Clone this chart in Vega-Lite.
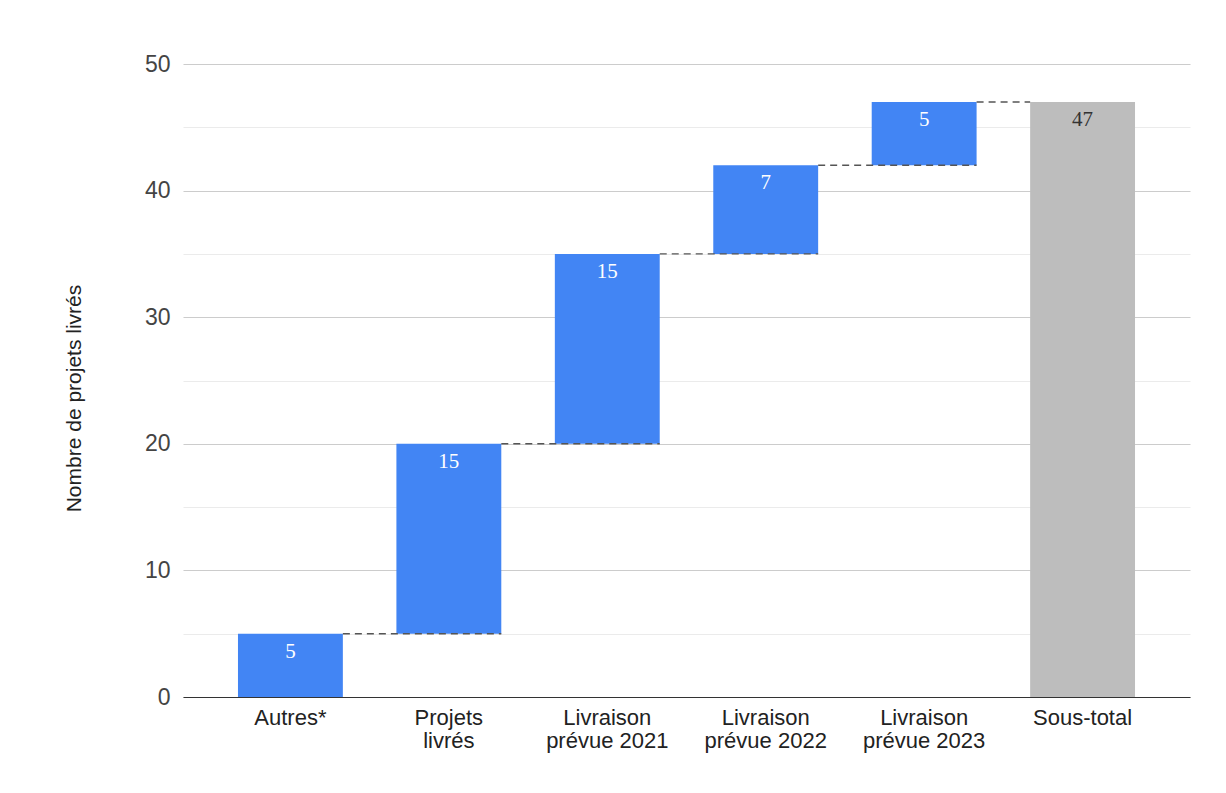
{
  "$schema": "https://vega.github.io/schema/vega-lite/v6.json",
  "autosize": {"type": "none"},
  "width": 1007,
  "height": 633,
  "padding": {"left": 183, "top": 64, "right": 36, "bottom": 96},
  "background": "white",
  "config": {
    "view": {"stroke": null},
    "font": "Liberation Sans"
  },
  "datasets": {
    "steps": [
      {"etape": "Autres*", "debut": 0, "fin": 5, "valeur": 5, "type": "hausse"},
      {"etape": "Projets livrés", "debut": 5, "fin": 20, "valeur": 15, "type": "hausse"},
      {"etape": "Livraison prévue 2021", "debut": 20, "fin": 35, "valeur": 15, "type": "hausse"},
      {"etape": "Livraison prévue 2022", "debut": 35, "fin": 42, "valeur": 7, "type": "hausse"},
      {"etape": "Livraison prévue 2023", "debut": 42, "fin": 47, "valeur": 5, "type": "hausse"},
      {"etape": "Sous-total", "debut": 0, "fin": 47, "valeur": 47, "type": "total"}
    ],
    "liens": [
      {"de": "Autres*", "vers": "Projets livrés", "niveau": 5},
      {"de": "Projets livrés", "vers": "Livraison prévue 2021", "niveau": 20},
      {"de": "Livraison prévue 2021", "vers": "Livraison prévue 2022", "niveau": 35},
      {"de": "Livraison prévue 2022", "vers": "Livraison prévue 2023", "niveau": 42},
      {"de": "Livraison prévue 2023", "vers": "Sous-total", "niveau": 47}
    ]
  },
  "layer": [
    {
      "data": {"name": "steps"},
      "mark": {"type": "bar"},
      "encoding": {
        "x": {
          "field": "etape",
          "type": "nominal",
          "sort": null,
          "scale": {"paddingInner": 0.338, "paddingOuter": 0.347},
          "axis": {
            "title": null,
            "labelAngle": 0,
            "labelFontSize": 22,
            "labelColor": "#222222",
            "labelLineHeight": 23,
            "labelPadding": 10,
            "labelBaseline": "top",
            "ticks": false,
            "tickSize": 0,
            "domainColor": "#333333",
            "domainWidth": 1.2,
            "labelExpr": "indexof(datum.label, ' ') > 0 ? [substring(datum.label, 0, indexof(datum.label, ' ')), substring(datum.label, indexof(datum.label, ' ') + 1)] : datum.label"
          }
        },
        "y": {
          "field": "debut",
          "type": "quantitative",
          "scale": {"domain": [0, 50], "nice": false},
          "axis": {
            "title": "Nombre de projets livrés",
            "titleFontSize": 21,
            "titleFontWeight": "normal",
            "titleColor": "#222222",
            "titleX": -99,
            "titleY": 334,
            "values": [0, 5, 10, 15, 20, 25, 30, 35, 40, 45, 50],
            "labelExpr": "datum.value % 10 === 0 ? datum.label : ''",
            "labelFontSize": 23,
            "labelColor": "#444444",
            "labelPadding": 13,
            "ticks": false,
            "tickSize": 0,
            "domain": false,
            "grid": true,
            "gridColor": {"condition": {"test": "datum.value % 10 !== 0", "value": "#ebebeb"}, "value": "#cccccc"},
            "gridWidth": 1.2
          }
        },
        "y2": {"field": "fin"},
        "color": {
          "field": "type",
          "type": "nominal",
          "scale": {"domain": ["hausse", "total"], "range": ["#4285f4", "#bdbdbd"]},
          "legend": null
        }
      }
    },
    {
      "data": {"name": "liens"},
      "transform": [{"filter": "datum.vers !== 'Sous-total'"}],
      "mark": {"type": "rule", "color": "#555555", "strokeWidth": 1.4, "strokeDash": [7, 5]},
      "encoding": {
        "x": {"field": "de", "type": "nominal", "sort": null, "bandPosition": 1},
        "x2": {"field": "vers", "bandPosition": 1},
        "y": {"field": "niveau", "type": "quantitative"}
      }
    },
    {
      "data": {"name": "liens"},
      "transform": [{"filter": "datum.vers === 'Sous-total'"}],
      "mark": {"type": "rule", "color": "#555555", "strokeWidth": 1.4, "strokeDash": [7, 5]},
      "encoding": {
        "x": {"field": "de", "type": "nominal", "sort": null, "bandPosition": 1},
        "x2": {"field": "vers", "bandPosition": 0},
        "y": {"field": "niveau", "type": "quantitative"}
      }
    },
    {
      "data": {"name": "steps"},
      "mark": {"type": "text", "font": "Liberation Serif", "fontSize": 21, "baseline": "alphabetic", "dy": 24},
      "encoding": {
        "x": {"field": "etape", "type": "nominal", "sort": null},
        "y": {"field": "fin", "type": "quantitative"},
        "text": {"field": "valeur", "type": "quantitative"},
        "color": {"condition": {"test": "datum.type === 'total'", "value": "#333333"}, "value": "#ffffff"}
      }
    }
  ]
}
